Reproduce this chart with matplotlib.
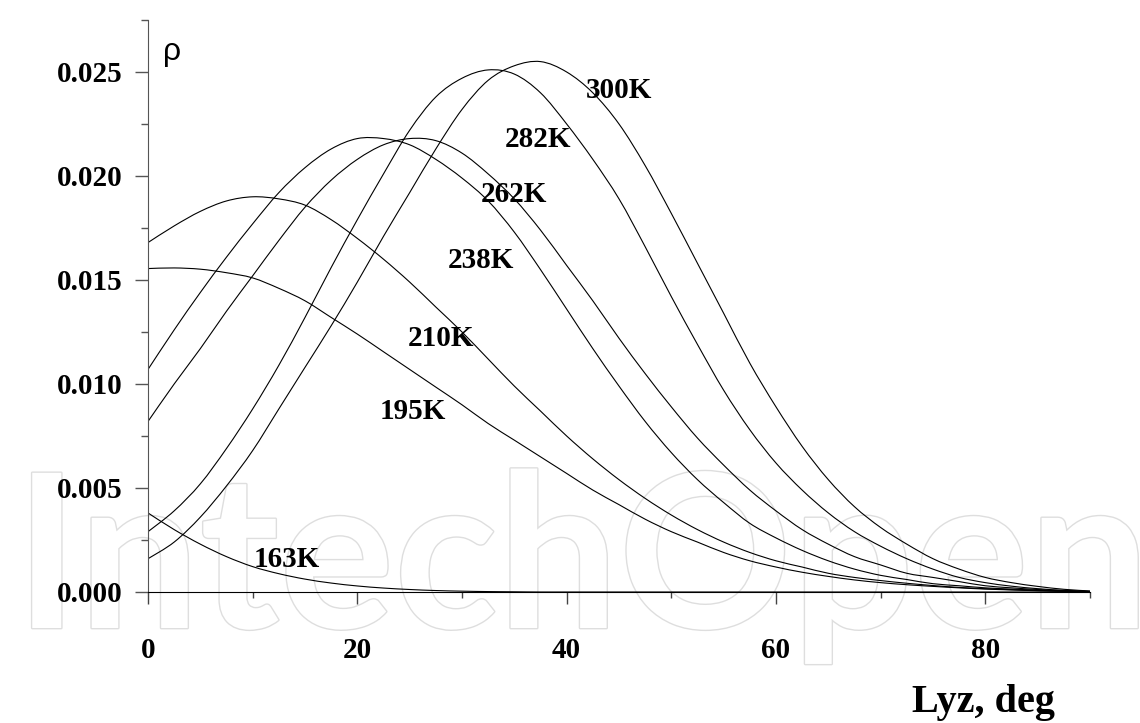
import matplotlib
matplotlib.use('Agg')
import matplotlib.pyplot as plt
import matplotlib.patheffects as pe
from matplotlib.path import Path
from matplotlib.patches import PathPatch
from matplotlib.ticker import MultipleLocator, FormatStrFormatter
import numpy as np

# angle grid (deg) shared by all curves
angle = np.arange(0, 90.1, 2.5)

rho_300K = [0.0016, 0.0024, 0.0036, 0.0051, 0.0068, 0.0088, 0.0108, 0.0128, 0.0149,
            0.0171, 0.0192, 0.0213, 0.0232, 0.0246, 0.0253, 0.0255, 0.0250, 0.0240,
            0.0225, 0.0205, 0.0182, 0.0158, 0.0134, 0.0110, 0.0089, 0.0070, 0.0054,
            0.0041, 0.0031, 0.0023, 0.0016, 0.0011, 0.0007, 0.00045, 0.00027, 0.00013,
            0.00005]
rho_282K = [0.0029, 0.0039, 0.0052, 0.0069, 0.0088, 0.0109, 0.0132, 0.0156, 0.0179,
            0.0201, 0.0222, 0.0238, 0.0247, 0.0251, 0.0249, 0.0240, 0.0225, 0.0208,
            0.0189, 0.0166, 0.0142, 0.0119, 0.0097, 0.0078, 0.0062, 0.0049, 0.0038,
            0.0029, 0.0022, 0.0016, 0.0011, 0.0007, 0.00045, 0.00028, 0.00016, 0.00008,
            0.00003]
rho_262K = [0.0082, 0.0100, 0.0117, 0.0135, 0.0152, 0.0169, 0.0185, 0.0198, 0.0208,
            0.0215, 0.0218, 0.0217, 0.0211, 0.0201, 0.0189, 0.0174, 0.0157, 0.0140,
            0.0122, 0.0105, 0.0089, 0.0074, 0.0061, 0.0049, 0.0039, 0.0030, 0.0023,
            0.0017, 0.0013, 0.0009, 0.0007, 0.0005, 0.0003, 0.0002, 0.00012, 0.00006,
            0.00002]
rho_238K = [0.0107, 0.0126, 0.0144, 0.0161, 0.0177, 0.0192, 0.0204, 0.0213, 0.0218,
            0.0218, 0.0215, 0.0208, 0.0199, 0.0188, 0.0173, 0.0155, 0.0136, 0.0117,
            0.0099, 0.0082, 0.0067, 0.0054, 0.0043, 0.0033, 0.0026, 0.0020, 0.0015,
            0.0011, 0.0008, 0.0006, 0.0004, 0.0003, 0.0002, 0.00014, 0.00009, 0.00005,
            0.00002]
rho_210K = [0.0168, 0.0176, 0.0183, 0.0188, 0.0190, 0.0189, 0.0186, 0.0179, 0.0170,
            0.0160, 0.0149, 0.0137, 0.0125, 0.0112, 0.0099, 0.0087, 0.0075, 0.0064,
            0.0054, 0.0045, 0.0037, 0.0030, 0.0024, 0.0019, 0.0015, 0.0012, 0.0009,
            0.0007, 0.00055, 0.00042, 0.00031, 0.00022, 0.00016, 0.00011, 0.00007, 0.00004,
            0.00002]
rho_195K = [0.01555, 0.01558, 0.01552, 0.01535, 0.0151, 0.0146, 0.0140, 0.0132, 0.0124,
            0.01155, 0.0107, 0.00985, 0.0090, 0.0081, 0.0073, 0.0065, 0.0057, 0.0049,
            0.0042, 0.0035, 0.0029, 0.0024, 0.0019, 0.0015, 0.0012, 0.00095, 0.00075,
            0.00058, 0.00045, 0.00035, 0.00027, 0.0002, 0.00014, 0.0001, 0.00006, 0.00003,
            0.00001]
rho_163K = [0.0038, 0.0030, 0.0023, 0.0017, 0.00122, 0.00088, 0.00062, 0.00043, 0.00029,
            0.00019, 0.00012, 0.00007, 0.00004, 0.00002, 0.00001, 0, 0, 0,
            0, 0, 0, 0, 0, 0, 0, 0, 0,
            0, 0, 0, 0, 0, 0, 0, 0, 0,
            0]

curves = [rho_300K, rho_282K, rho_262K, rho_238K, rho_210K, rho_195K, rho_163K]
labels = ['300K', '282K', '262K', '238K', '210K', '195K', '163K']
# label anchor (x centre, baseline) in data units
label_x = [45.0, 37.3, 35.0, 31.8, 28.0, 25.3, 13.3]
label_y = [0.02375, 0.02139, 0.01875, 0.01558, 0.01183, 0.00832, 0.0012]


def smooth_path(x, y):
    """Bezier path passing through every point (Catmull-Rom tangents)."""
    x = np.asarray(x, float)
    y = np.asarray(y, float)
    px = np.concatenate([[x[0]], x, [x[-1]]])
    py = np.concatenate([[y[0]], y, [y[-1]]])
    verts = [(x[0], y[0])]
    codes = [Path.MOVETO]
    for i in range(1, len(x)):
        c1 = (px[i] + (px[i + 1] - px[i - 1]) / 6, py[i] + (py[i + 1] - py[i - 1]) / 6)
        c2 = (px[i + 1] - (px[i + 2] - px[i]) / 6, py[i + 1] - (py[i + 2] - py[i]) / 6)
        verts += [c1, c2, (px[i + 1], py[i + 1])]
        codes += [Path.CURVE4] * 3
    return Path(verts, codes)


W, H = 1140, 723
fig = plt.figure(figsize=(W / 100, H / 100), dpi=100)
fig.patch.set_facecolor('white')

# faint watermark behind everything
wm = fig.text(15 / W, 1 - 628 / H, 'IntechOpen', fontsize=150, family='Lato',
              fontweight='bold', color='white', ha='left', va='baseline', zorder=-5,
              path_effects=[pe.Stroke(linewidth=2.0, foreground='#dedede'), pe.Normal()])
fig.canvas.draw()
bb = wm.get_window_extent()
wm.set_fontsize(150 * 1135 / bb.width)

ax = fig.add_axes([148 / W, 1 - 592 / H, (1090 - 148) / W, (592 - 20) / H])
ax.patch.set_alpha(0)

for rho in curves:
    ax.add_patch(PathPatch(smooth_path(angle, rho), fill=False,
                           edgecolor='black', lw=0.8, transform=ax.transData))

serif = 'Liberation Serif'
for txt, lx, ly in zip(labels, label_x, label_y):
    ax.text(lx, ly, txt, fontsize=21, fontweight='bold', family=serif,
            ha='center', va='baseline')

ax.set_xlim(0, 90)
ax.set_ylim(0, 0.0275)
ax.xaxis.set_major_locator(MultipleLocator(20))
ax.xaxis.set_minor_locator(MultipleLocator(10))
ax.yaxis.set_major_locator(MultipleLocator(0.005))
ax.yaxis.set_minor_locator(MultipleLocator(0.0025))
ax.yaxis.set_major_formatter(FormatStrFormatter('%.3f'))

for s in ['top', 'right']:
    ax.spines[s].set_visible(False)
ax.spines['left'].set_color('#555555')
ax.spines['bottom'].set_color('black')

ax.tick_params(axis='y', which='major', length=9.4, width=1, color='#555555', pad=8.6)
ax.tick_params(axis='y', which='minor', length=5, width=1, color='#555555')
ax.tick_params(axis='x', which='major', length=8.6, width=1, color='#444444', pad=24)
ax.tick_params(axis='x', which='minor', length=4.3, width=1, color='#444444')
for lab in ax.get_xticklabels() + ax.get_yticklabels():
    lab.set_fontfamily(serif)
    lab.set_fontweight('bold')
    lab.set_fontsize(21)

fig.text(163 / W, 1 - 60 / H, '\u03c1', fontsize=23, family='Liberation Sans',
         ha='left', va='baseline')
fig.text(1055 / W, 1 - 712 / H, 'Lyz, deg', fontsize=29, fontweight='bold',
         family=serif, ha='right', va='baseline')

fig.savefig('out.png', dpi=100, facecolor='white')
